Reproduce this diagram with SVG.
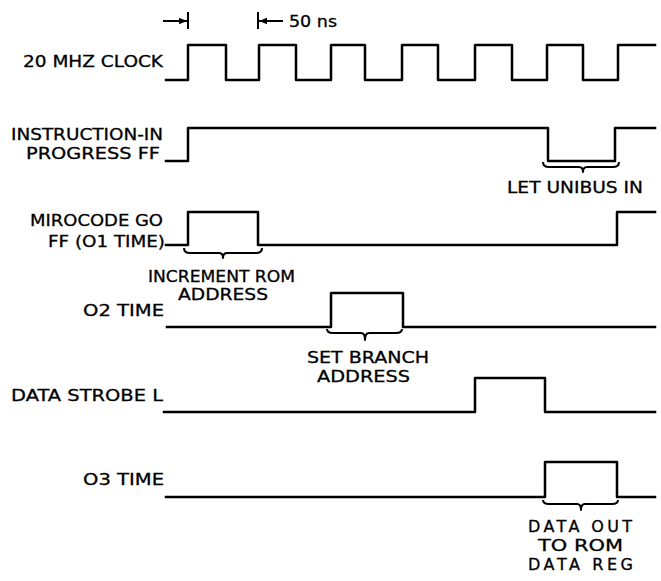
<svg xmlns="http://www.w3.org/2000/svg" width="661" height="581" viewBox="0 0 661 581">
<style>
.sig{fill:none;stroke:#000;stroke-width:2.5;stroke-linejoin:round;stroke-linecap:square}
.br{fill:none;stroke:#000;stroke-width:2;stroke-linejoin:round}
.lbl{font-family:"DejaVu Sans","Liberation Sans",sans-serif;font-size:16px;fill:#000;stroke:#000;stroke-width:0.3}
.r{text-anchor:end}
.m{text-anchor:middle}
</style>
<defs>
<marker id="ah" viewBox="0 0 10 10" refX="10" refY="5" markerWidth="10" markerHeight="8" markerUnits="userSpaceOnUse" orient="auto">
<path d="M0,1 L10,5 L0,9 Z" fill="#000"/>
</marker>
</defs>
<rect width="661" height="581" fill="#fff"/>

<g id="scale">
<line x1="188" y1="12" x2="188" y2="29" stroke="#000" stroke-width="2"/>
<line x1="258" y1="12" x2="258" y2="29" stroke="#000" stroke-width="2"/>
<line x1="163" y1="21" x2="187" y2="21" stroke="#000" stroke-width="2" marker-end="url(#ah)"/>
<line x1="283" y1="21" x2="259" y2="21" stroke="#000" stroke-width="2" marker-end="url(#ah)"/>
<text class="lbl" x="289" y="27" textLength="48" lengthAdjust="spacingAndGlyphs">50 ns</text>
</g>

<g id="clock">
<text class="lbl r" x="163" y="67" textLength="140" lengthAdjust="spacingAndGlyphs">20 MHZ CLOCK</text>
<path class="sig" d="M166,80 H188 V45 H226 V80 H259 V45 H296 V80 H331 V45 H365 V80 H402 V45 H438 V80 H475 V45 H512 V80 H547 V45 H583 V80 H618 V45 H655"/>
</g>

<g id="instr">
<text class="lbl r" x="163" y="140" textLength="152" lengthAdjust="spacingAndGlyphs">INSTRUCTION-IN</text>
<text class="lbl r" x="160" y="159" textLength="134" lengthAdjust="spacingAndGlyphs">PROGRESS FF</text>
<path class="sig" d="M166,161 H188 V128 H548 V161 H615 V128 H655"/>
<path class="br" d="M543,162 q0,5 6,5 H579 q4,0 4,5 q0,-5 4,-5 H613 q6,0 6,-5"/>
<text class="lbl" x="507" y="193" textLength="136" lengthAdjust="spacingAndGlyphs">LET UNIBUS IN</text>
</g>

<g id="microcode">
<text class="lbl r" x="163" y="226" textLength="133" lengthAdjust="spacingAndGlyphs">MIROCODE GO</text>
<text class="lbl r" x="165" y="247" textLength="117" lengthAdjust="spacingAndGlyphs">FF (O1 TIME)</text>
<path class="sig" d="M166,245 H188 V212 H258 V245 H617 V212 H655"/>
<path class="br" d="M184,248 q0,5 6,5 H219 q4,0 4,5 q0,-5 4,-5 H256 q6,0 6,-5"/>
<text class="lbl" x="148" y="282" textLength="147" lengthAdjust="spacingAndGlyphs">INCREMENT ROM</text>
<text class="lbl" x="178" y="300" textLength="90" lengthAdjust="spacingAndGlyphs">ADDRESS</text>
</g>

<g id="o2time">
<text class="lbl r" x="164" y="316" textLength="81" lengthAdjust="spacingAndGlyphs">O2 TIME</text>
<path class="sig" d="M167,327 H331 V293 H403 V327 H655"/>
<path class="br" d="M327,329 q0,4 6,4 H361 q4,0 4,7 q0,-7 4,-7 H396 q6,0 6,-4"/>
<text class="lbl" x="307" y="363" textLength="122" lengthAdjust="spacingAndGlyphs">SET BRANCH</text>
<text class="lbl" x="317" y="382" textLength="93" lengthAdjust="spacingAndGlyphs">ADDRESS</text>
</g>

<g id="strobe">
<text class="lbl r" x="163" y="401" textLength="152" lengthAdjust="spacingAndGlyphs">DATA STROBE L</text>
<path class="sig" d="M164,412 H475 V378 H545 V412 H655"/>
</g>

<g id="o3time">
<text class="lbl r" x="164" y="485" textLength="81" lengthAdjust="spacingAndGlyphs">O3 TIME</text>
<path class="sig" d="M166,497 H545 V462 H617 V497 H655"/>
<path class="br" d="M543,500 q0,4 6,4 H577 q4,0 4,6 q0,-6 4,-6 H612 q6,0 6,-4"/>
<text class="lbl" x="528" y="532" textLength="104" lengthAdjust="spacing">DATA  OUT</text>
<text class="lbl" x="538" y="551" textLength="85" lengthAdjust="spacingAndGlyphs">TO ROM</text>
<text class="lbl" x="528" y="570" textLength="105" lengthAdjust="spacing">DATA  REG</text>
</g>
</svg>
